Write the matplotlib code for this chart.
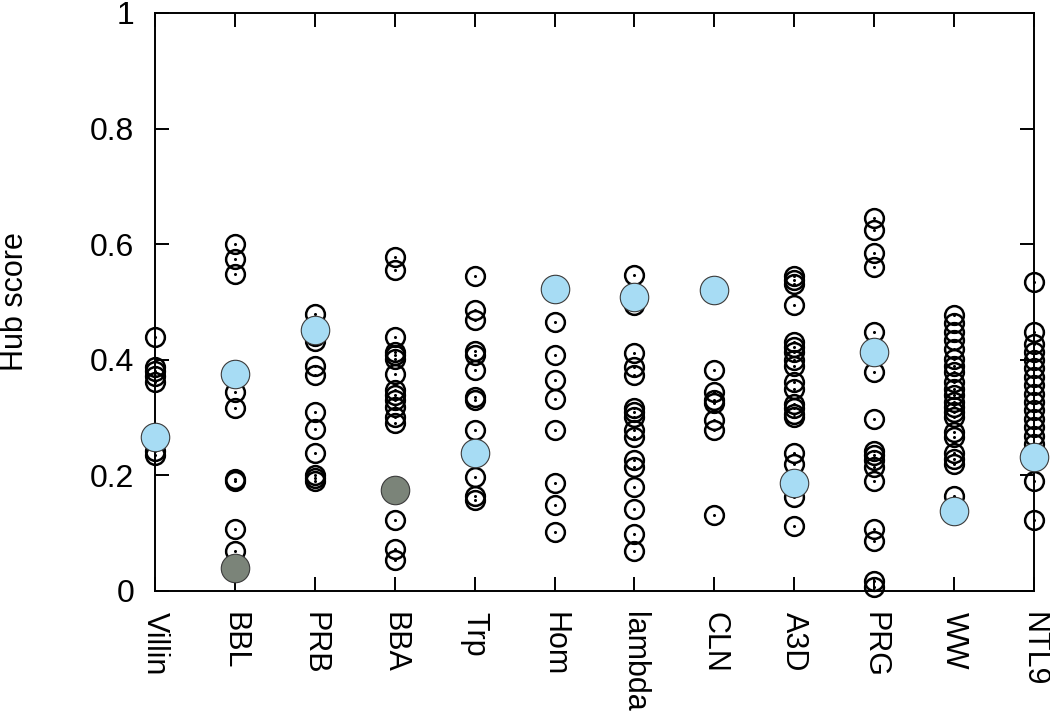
import matplotlib
matplotlib.use("Agg")
import matplotlib.pyplot as plt

plt.rcParams['font.family'] = ['Liberation Sans', 'DejaVu Sans']

categories = ["Villin", "BBL", "PRB", "BBA", "Trp", "Hom", "lambda", "CLN",
              "A3D", "PRG", "WW", "NTL9"]

villin = [0.44, 0.388, 0.380, 0.372, 0.362, 0.243, 0.235]
bbl = [0.600, 0.575, 0.549, 0.344, 0.316, 0.194, 0.190, 0.108, 0.070]
prb = [0.480, 0.442, 0.432, 0.390, 0.373, 0.310, 0.281, 0.238, 0.200, 0.195, 0.191]
bba = [0.578, 0.555, 0.440, 0.413, 0.408, 0.402, 0.376, 0.347, 0.339, 0.330,
       0.318, 0.301, 0.290, 0.122, 0.073, 0.053]
trp = [0.545, 0.486, 0.468, 0.416, 0.408, 0.382, 0.336, 0.330, 0.278, 0.197,
       0.165, 0.157]
hom = [0.466, 0.408, 0.365, 0.332, 0.278, 0.186, 0.148, 0.102]
lam = [0.546, 0.494, 0.412, 0.388, 0.373, 0.316, 0.310, 0.301, 0.278, 0.266,
       0.226, 0.214, 0.180, 0.142, 0.099, 0.070]
cln = [0.382, 0.344, 0.330, 0.325, 0.295, 0.278, 0.131]
a3d = [0.545, 0.538, 0.531, 0.494, 0.431, 0.422, 0.413, 0.399, 0.390, 0.362,
       0.350, 0.324, 0.316, 0.307, 0.301, 0.238, 0.220, 0.162, 0.113]
prg = [0.645, 0.624, 0.584, 0.561, 0.448, 0.379, 0.298, 0.243, 0.235, 0.226,
       0.214, 0.191, 0.108, 0.087, 0.018, 0.007]
ww = [0.477, 0.463, 0.448, 0.434, 0.419, 0.402, 0.390, 0.379, 0.362, 0.350,
      0.339, 0.327, 0.318, 0.310, 0.301, 0.275, 0.266, 0.238, 0.229, 0.220, 0.165]
ntl9 = [0.535, 0.448, 0.428, 0.414, 0.399, 0.385, 0.370, 0.356, 0.341, 0.327,
        0.313, 0.298, 0.284, 0.269, 0.255, 0.191, 0.122]

open_series = [villin, bbl, prb, bba, trp, hom, lam, cln, a3d, prg, ww, ntl9]

# highlighted (light blue) points: (category index, value)
blue_idx = [0, 1, 2, 4, 5, 6, 7, 8, 9, 10, 11]
blue_val = [0.266, 0.375, 0.451, 0.239, 0.523, 0.509, 0.520, 0.186, 0.414, 0.139, 0.232]

# gray points
gray_idx = [1, 3]
gray_val = [0.040, 0.174]

ytick_vals = [0, 0.2, 0.4, 0.6, 0.8, 1.0]
ytick_labels = ["0", "0.2", "0.4", "0.6", "0.8", "1"]

fig = plt.figure(figsize=(10.5, 7.23), dpi=100)
ax = fig.add_axes([155/1050, 1-591/723, (1034-155)/1050, (591-13)/723])

for i, vals in enumerate(open_series):
    xs = [i] * len(vals)
    ax.plot(xs, vals, linestyle='none', marker='o', ms=13.5, mfc='none',
            mec='black', mew=1.8, clip_on=False, zorder=3)
    ax.plot(xs, vals, linestyle='none', marker='o', ms=2.2, mfc='black',
            mec='black', mew=0, clip_on=False, zorder=3)

ax.plot(blue_idx, blue_val, linestyle='none', marker='o', ms=20.5,
        mfc='#a7dcf4', mec='#3a3a3a', mew=0.8, clip_on=False, zorder=4)
ax.plot(gray_idx, gray_val, linestyle='none', marker='o', ms=20.5,
        mfc='#7b8479', mec='#3a3a3a', mew=0.8, clip_on=False, zorder=4)

ax.set_xlim(0, len(categories) - 1)
ax.set_ylim(0, 1)
ax.set_xticks(range(len(categories)))
ax.set_xticklabels(categories, rotation=270, fontsize=22)
ax.set_yticks(ytick_vals)
ax.set_yticklabels(ytick_labels, fontsize=23)
ax.tick_params(axis='both', direction='in', length=10, width=1.4,
               top=True, right=True, pad=15)
for s in ax.spines.values():
    s.set_linewidth(1.4)

ax.set_ylabel("Hub score", fontsize=22)
ax.yaxis.set_label_coords(-0.159, 0.5)
ax.yaxis.label.set_va('center')

fig.savefig("out.png", dpi=100)
